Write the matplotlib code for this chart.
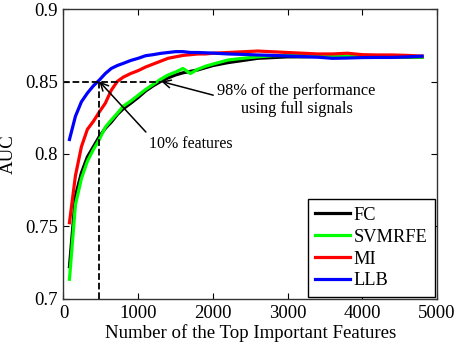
import numpy as np
import matplotlib
matplotlib.use('Agg')
import matplotlib.pyplot as plt

plt.rcParams['font.family'] = ['Liberation Serif', 'DejaVu Serif']
plt.rcParams['mathtext.fontset'] = 'stix'

# number of top features (x axis)
n_feat = [80, 160, 240, 320, 400, 480, 560, 640, 720, 800, 900, 1000, 1100, 1200,
          1300, 1400, 1500, 1600, 1700, 1800, 1900, 2000, 2200, 2400, 2600, 2800,
          3000, 3200, 3400, 3600, 3800, 4000, 4200, 4400, 4600, 4800]

auc_fc = [0.7223, 0.771, 0.787, 0.798, 0.805, 0.812, 0.8177, 0.822, 0.8272, 0.8312,
          0.835, 0.839, 0.8435, 0.847, 0.850, 0.8525, 0.8545, 0.856, 0.857, 0.858,
          0.8595, 0.861, 0.863, 0.8645, 0.866, 0.8665, 0.867, 0.867, 0.8672, 0.867,
          0.8668, 0.8668, 0.8668, 0.8668, 0.8668, 0.8668]
auc_svmrfe = [0.7136, 0.765, 0.783, 0.795, 0.803, 0.810, 0.8185, 0.8234, 0.828, 0.833,
              0.8365, 0.8405, 0.8445, 0.848, 0.8515, 0.8545, 0.8565, 0.859, 0.8555,
              0.8585, 0.8605, 0.862, 0.8648, 0.866, 0.867, 0.8678, 0.868, 0.868,
              0.8678, 0.8675, 0.8675, 0.8672, 0.867, 0.867, 0.867, 0.8668]
auc_mi = [0.7526, 0.785, 0.805, 0.817, 0.8225, 0.829, 0.835, 0.844, 0.850, 0.853,
          0.8555, 0.8575, 0.860, 0.862, 0.864, 0.866, 0.867, 0.868, 0.8685, 0.869,
          0.869, 0.8695, 0.870, 0.8705, 0.871, 0.8705, 0.870, 0.8695, 0.869, 0.869,
          0.8695, 0.8685, 0.8683, 0.8683, 0.868, 0.8675]
auc_llb = [0.810, 0.826, 0.836, 0.842, 0.847, 0.851, 0.8555, 0.859, 0.861, 0.8625,
           0.8645, 0.866, 0.8678, 0.8685, 0.8694, 0.870, 0.8706, 0.8706, 0.870, 0.870,
           0.8698, 0.8696, 0.869, 0.8687, 0.8683, 0.868, 0.8676, 0.8672, 0.8668,
           0.866, 0.8662, 0.8665, 0.8666, 0.8666, 0.867, 0.8675]

feat_10pct = 480
auc_98 = 0.85
feat_98 = 1310

fig = plt.figure(figsize=(4.59, 3.49), dpi=100)
ax = fig.add_axes([0.1383, 0.1433, 0.8137, 0.8309])

ax.plot(n_feat, auc_fc, color='k', lw=2.3, label='FC')
ax.plot(n_feat, auc_svmrfe, color=(0, 1, 0), lw=2.3, label='SVMRFE')
ax.plot(n_feat, auc_mi, color=(1, 0, 0), lw=2.3, label='MI')
ax.plot(n_feat, auc_llb, color=(0, 0, 1), lw=2.3, label='LLB')

# dashed guide lines
ax.plot([0, feat_98], [auc_98, auc_98], 'k--', lw=1.3)
ax.plot([feat_10pct, feat_10pct], [0.7, auc_98], 'k--', lw=1.3)

ax.annotate('98% of the performance\nusing full signals', xy=(feat_98, auc_98),
            xytext=(3120, 0.8375), ha='center', va='center', fontsize=11.8,
            linespacing=1.15,
            arrowprops=dict(arrowstyle='->', color='k', lw=1.1, mutation_scale=14,
                            shrinkA=1, shrinkB=0, relpos=(0.0, 0.6)))
ax.annotate('10% features', xy=(feat_10pct, auc_98), xytext=(1710, 0.807),
            ha='center', va='center', fontsize=11.5,
            arrowprops=dict(arrowstyle='->', color='k', lw=1.1, mutation_scale=14,
                            shrinkA=1, shrinkB=0, relpos=(0.0, 1.0)))

ax.set_xlim(0, 5000)
ax.set_ylim(0.7, 0.9)
ax.set_xticks([0, 1000, 2000, 3000, 4000, 5000])
ax.set_yticks([0.7, 0.75, 0.8, 0.85, 0.9])
ax.set_yticklabels(['0.7', '0.75', '0.8', '0.85', '0.9'])
ax.tick_params(direction='in', top=True, right=True, labelsize=13.5, length=4,
               width=0.8, pad=4)
for s in ax.spines.values():
    s.set_color('#333333')
    s.set_linewidth(1.0)

ax.set_xlabel('Number of the Top Important Features', fontsize=13.6, labelpad=2)
ax.set_ylabel('AUC', fontsize=13.6, labelpad=6)

leg = ax.legend(loc='lower right', fontsize=13.2, fancybox=False, framealpha=1,
                edgecolor='k', borderaxespad=0.12, handlelength=1.9,
                handletextpad=0.2, labelspacing=0.27, borderpad=0.4)
leg.get_frame().set_linewidth(1.0)

fig.savefig('out.png', dpi=100)
